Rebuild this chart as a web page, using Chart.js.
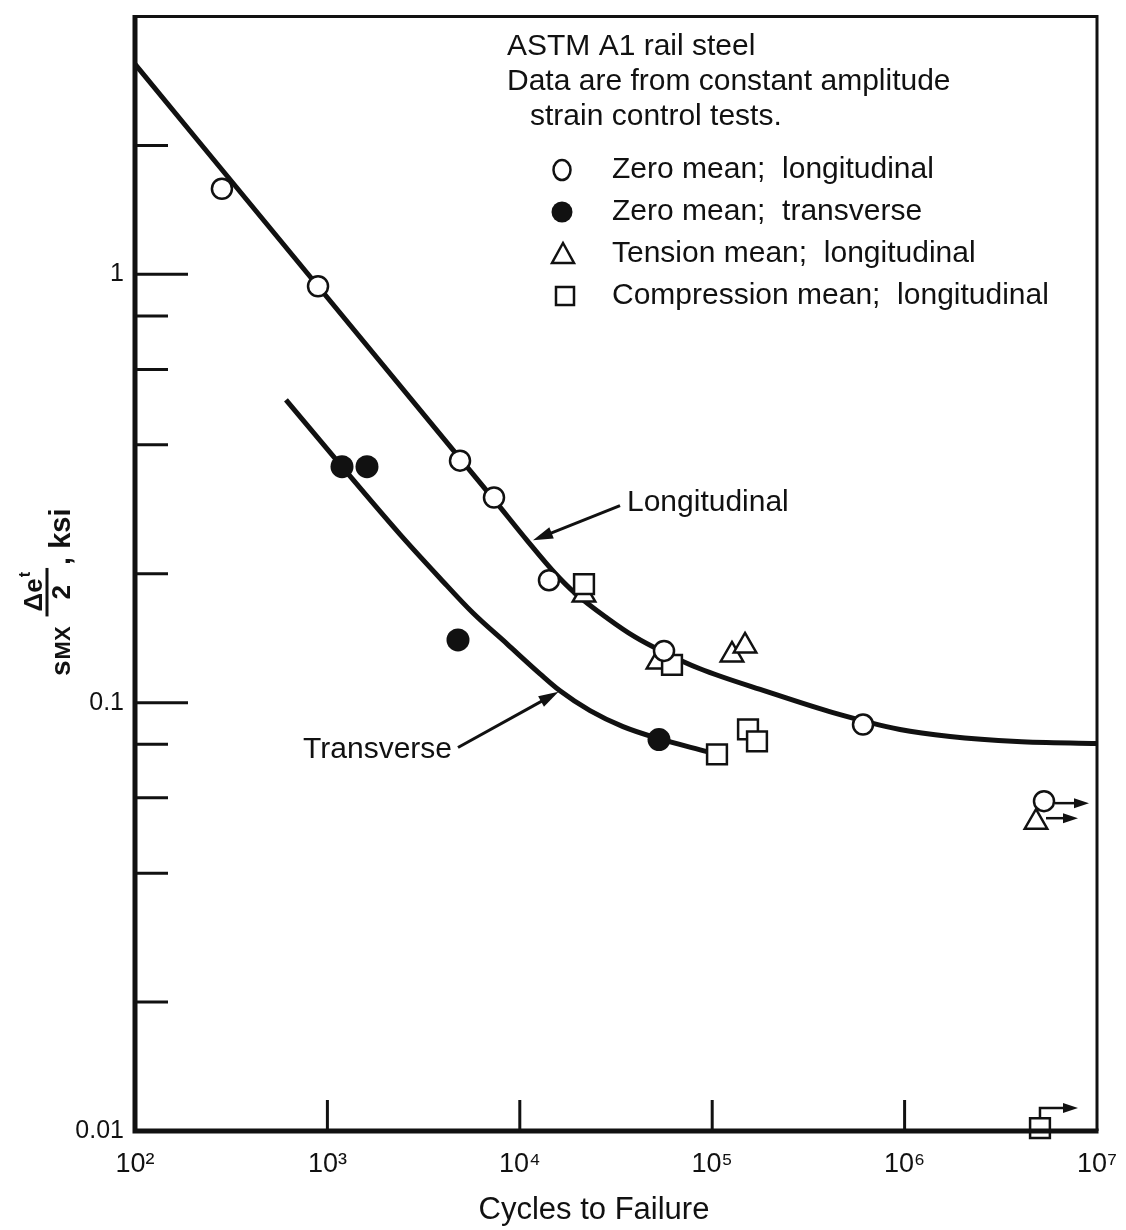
<!DOCTYPE html>
<html>
<head>
<meta charset="utf-8">
<script src="https://cdn.jsdelivr.net/npm/chart.js@4.4.1/dist/chart.umd.min.js"></script>
<style>
html,body{margin:0;padding:0;background:#ffffff;}
#wrap{width:1126px;height:1230px;}
</style>
</head>
<body>
<div id="wrap"><canvas id="c" width="1126" height="1230"></canvas></div>
<script>
// ---- axis ticks ----
const xTickValues = [1e2, 1e3, 1e4, 1e5, 1e6, 1e7];
const xTickLabels = ['10\u00B2', '10\u00B3', '10\u2074', '10\u2075', '10\u2076', '10\u2077'];
const xInnerTicks = [1e3, 1e4, 1e5, 1e6];
const yTickValues = [0.01, 0.1, 1];
const yTickLabels = ['0.01', '0.1', '1'];
const yMajorTicks = [0.1, 1];
const yMinorTicks = [0.02, 0.04, 0.06, 0.08, 0.2, 0.4, 0.6, 0.8, 2];

// ---- fitted curves (cycles, amplitude) ----
const longCurveN = [100, 894, 4948, 7343, 10900, 15240, 19360, 28400, 39700, 55510, 86420, 192700, 424500, 946400, 1722000, 3839000, 10000000];
const longCurveS = [3.095, 0.938, 0.3694, 0.2980, 0.2394, 0.2006, 0.1803, 0.1577, 0.1424, 0.1314, 0.1200, 0.1061, 0.0948, 0.0866, 0.0834, 0.0812, 0.0803];
const transCurveN = [609, 1191, 2384, 3848, 5713, 8579, 12735, 16180, 23170, 34390, 52270, 93970];
const transCurveS = [0.5093, 0.3557, 0.2472, 0.1953, 0.1619, 0.1372, 0.1168, 0.1066, 0.0958, 0.0879, 0.0825, 0.0769];

// ---- test data ----
const zeroLongN = [283, 894, 4889, 7343, 14180, 56180, 607900, 5303000];
const zeroLongS = [1.585, 0.938, 0.3674, 0.3013, 0.1932, 0.1321, 0.0889, 0.0589];
const zeroTransN = [1191, 1606, 4773, 52900];
const zeroTransS = [0.3557, 0.3557, 0.1401, 0.0820];
const tensionLongN = [21560, 52270, 126700, 148100, 4819000];
const tensionLongS = [0.1783, 0.1245, 0.1293, 0.1357, 0.0526];
const compLongN = [21560, 61810, 105900, 153500, 170900, 5054000];
const compLongS = [0.1891, 0.1226, 0.0757, 0.0866, 0.0812, 0.01016];
const runoutMinCycles = 4e6; // specimens at/above this did not fail (run-outs)

// ---- texts ----
const legendTitle = ['ASTM A1 rail steel', 'Data are from constant amplitude', 'strain control tests.'];
const legendLabels = ['Zero mean;  longitudinal', 'Zero mean;  transverse', 'Tension mean;  longitudinal', 'Compression mean;  longitudinal'];
const xTitle = 'Cycles to Failure';
const curveLabels = ['Longitudinal', 'Transverse'];
// annotation anchors in data coordinates: [labelN, labelS, tailN, tailS, tipN, tipS]
const longLabelAnchor = [36060, 0.2933, 33180, 0.2886, 11710, 0.2394];
const transLabelAnchor = [4442, 0.0777, 4773, 0.0786, 15900, 0.1060];

const FONT = '"Liberation Sans", Arial, sans-serif';
const INK = '#111111';

function pts(N, S) { return N.map((n, i) => ({x: n, y: S[i]})); }

function arrowHead(ctx, x1, y1, x2, y2, len, half) {
  const a = Math.atan2(y2 - y1, x2 - x1);
  ctx.beginPath();
  ctx.moveTo(x2, y2);
  ctx.lineTo(x2 - len * Math.cos(a) + half * Math.sin(a), y2 - len * Math.sin(a) - half * Math.cos(a));
  ctx.lineTo(x2 - len * Math.cos(a) - half * Math.sin(a), y2 - len * Math.sin(a) + half * Math.cos(a));
  ctx.closePath();
  ctx.fill();
}
function arrow(ctx, x1, y1, x2, y2, w, len, half) {
  const a = Math.atan2(y2 - y1, x2 - x1);
  ctx.lineWidth = w;
  ctx.beginPath();
  ctx.moveTo(x1, y1);
  ctx.lineTo(x2 - (len * 0.7) * Math.cos(a), y2 - (len * 0.7) * Math.sin(a));
  ctx.stroke();
  arrowHead(ctx, x1, y1, x2, y2, len, half);
}

const decor = {
  id: 'decor',
  beforeDraw(chart) {
    const ctx = chart.ctx;
    ctx.save();
    ctx.fillStyle = '#ffffff';
    ctx.fillRect(0, 0, chart.width, chart.height);
    ctx.restore();
  },
  afterDraw(chart) {
    const ctx = chart.ctx;
    const xs = chart.scales.x, ys = chart.scales.y;
    const a = chart.chartArea;
    ctx.save();
    ctx.strokeStyle = INK; ctx.fillStyle = INK;
    ctx.lineCap = 'butt';

    // frame
    ctx.lineWidth = 3;
    ctx.beginPath();
    ctx.moveTo(a.left, a.top); ctx.lineTo(a.right, a.top); ctx.lineTo(a.right, a.bottom);
    ctx.stroke();
    ctx.lineWidth = 5;
    ctx.beginPath();
    ctx.moveTo(a.left, a.top - 1.5); ctx.lineTo(a.left, a.bottom); ctx.lineTo(a.right + 1.5, a.bottom);
    ctx.stroke();

    // inward ticks
    ctx.lineWidth = 3;
    yMajorTicks.forEach(v => { const y = ys.getPixelForValue(v); ctx.beginPath(); ctx.moveTo(a.left, y); ctx.lineTo(a.left + 53, y); ctx.stroke(); });
    yMinorTicks.forEach(v => { const y = ys.getPixelForValue(v); ctx.beginPath(); ctx.moveTo(a.left, y); ctx.lineTo(a.left + 33, y); ctx.stroke(); });
    xInnerTicks.forEach(v => { const x = xs.getPixelForValue(v); ctx.beginPath(); ctx.moveTo(x, a.bottom); ctx.lineTo(x, a.bottom - 31); ctx.stroke(); });

    // run-out arrows
    ctx.lineWidth = 2.5;
    zeroLongN.forEach((n, i) => {
      if (n < runoutMinCycles) return;
      const x = xs.getPixelForValue(n), y = ys.getPixelForValue(zeroLongS[i]);
      arrow(ctx, x + 11, y + 2, x + 45, y + 2, 2.5, 15, 5);
    });
    tensionLongN.forEach((n, i) => {
      if (n < runoutMinCycles) return;
      const x = xs.getPixelForValue(n), y = ys.getPixelForValue(tensionLongS[i]);
      arrow(ctx, x + 10, y - 4, x + 42, y - 4, 2.5, 15, 5);
    });
    compLongN.forEach((n, i) => {
      if (n < runoutMinCycles) return;
      const x = xs.getPixelForValue(n), y = ys.getPixelForValue(compLongS[i]);
      ctx.lineWidth = 2.5;
      ctx.beginPath(); ctx.moveTo(x, y - 10); ctx.lineTo(x, y - 20); ctx.lineTo(x + 26, y - 20); ctx.stroke();
      arrowHead(ctx, x, y - 20, x + 38, y - 20, 15, 5);
    });

    // curve labels with arrows
    ctx.font = '30px ' + FONT;
    ctx.textBaseline = 'middle';
    {
      const [ln, ls, tn, ts, pn, ps] = longLabelAnchor;
      ctx.textAlign = 'left';
      ctx.fillText(curveLabels[0], xs.getPixelForValue(ln), ys.getPixelForValue(ls));
      arrow(ctx, xs.getPixelForValue(tn), ys.getPixelForValue(ts), xs.getPixelForValue(pn), ys.getPixelForValue(ps), 3, 20, 6);
    }
    {
      const [ln, ls, tn, ts, pn, ps] = transLabelAnchor;
      ctx.textAlign = 'right';
      ctx.fillText(curveLabels[1], xs.getPixelForValue(ln), ys.getPixelForValue(ls));
      arrow(ctx, xs.getPixelForValue(tn), ys.getPixelForValue(ts), xs.getPixelForValue(pn), ys.getPixelForValue(ps), 3, 20, 6);
    }

    // legend block
    ctx.textAlign = 'left';
    ctx.font = '30px ' + FONT;
    ctx.fillText(legendTitle[0], 507, 47);
    ctx.fillText(legendTitle[1], 507, 82);
    ctx.fillText(legendTitle[2], 530, 117);
    const rowY = [170, 212, 254, 296];
    legendLabels.forEach((t, i) => ctx.fillText(t, 612, rowY[i]));
    ctx.lineWidth = 2.5;
    ctx.fillStyle = '#fff';
    ctx.beginPath(); ctx.ellipse(562, rowY[0], 8.5, 10, 0, 0, Math.PI * 2); ctx.fill(); ctx.stroke();
    ctx.fillStyle = INK;
    ctx.beginPath(); ctx.arc(562, rowY[1], 10.5, 0, Math.PI * 2); ctx.fill();
    ctx.beginPath(); ctx.moveTo(563, rowY[2] - 11); ctx.lineTo(574, rowY[2] + 9); ctx.lineTo(552, rowY[2] + 9); ctx.closePath(); ctx.stroke();
    ctx.strokeRect(556, rowY[3] - 9, 18, 18);

    // x title
    ctx.fillStyle = INK;
    ctx.font = '31px ' + FONT;
    ctx.textAlign = 'center';
    ctx.textBaseline = 'middle';
    ctx.fillText(xTitle, 594, 1210);

    // y title: s_MX (Δe^t / 2), ksi   (rotated)
    ctx.save();
    ctx.translate(70, 676);
    ctx.rotate(-Math.PI / 2);
    ctx.textAlign = 'left';
    ctx.textBaseline = 'alphabetic';
    ctx.font = 'bold 28px ' + FONT;
    ctx.fillText('s', 0, 0);
    let u = ctx.measureText('s').width + 1;
    ctx.font = 'bold 22px ' + FONT;
    ctx.fillText('MX', u, 0);
    u += ctx.measureText('MX').width + 10;
    ctx.font = 'bold 26px ' + FONT;
    const w1 = ctx.measureText('\u0394e').width;
    const w3 = ctx.measureText('2').width;
    ctx.font = 'bold 16px ' + FONT;
    const w2 = ctx.measureText('t').width;
    const fw = Math.max(w1 + w2, w3) + 10;
    ctx.fillRect(u, -24.5, fw, 3);
    ctx.font = 'bold 26px ' + FONT;
    const nx = u + (fw - (w1 + w2)) / 2;
    ctx.fillText('\u0394e', nx, -28);
    ctx.fillText('2', u + (fw - w3) / 2, 0);
    ctx.font = 'bold 16px ' + FONT;
    ctx.fillText('t', nx + w1 + 1, -40);
    u += fw + 3;
    ctx.font = 'bold 29px ' + FONT;
    ctx.fillText(', ksi', u, 0);
    ctx.restore();

    ctx.restore();
  }
};

Chart.defaults.font.family = FONT;
Chart.defaults.color = INK;

const curveStyle = {showLine: true, borderColor: INK, borderWidth: 5, pointRadius: 0, pointHoverRadius: 0, fill: false, cubicInterpolationMode: 'monotone', order: 10, clip: false};

function noPad(s) { s.paddingTop = 0; s.paddingBottom = 0; s.paddingLeft = 0; s.paddingRight = 0; }

new Chart(document.getElementById('c'), {
  type: 'scatter',
  data: {
    datasets: [
      Object.assign({label: 'Longitudinal fit', data: pts(longCurveN, longCurveS)}, curveStyle),
      Object.assign({label: 'Transverse fit', data: pts(transCurveN, transCurveS)}, curveStyle),
      {label: 'Tension mean; longitudinal', data: pts(tensionLongN, tensionLongS), pointStyle: 'triangle', pointRadius: 13, borderWidth: 2.5, borderColor: INK, backgroundColor: '#ffffff', order: 3, clip: false},
      {label: 'Compression mean; longitudinal', data: pts(compLongN, compLongS), pointStyle: 'rect', pointRadius: 14, borderWidth: 2.5, borderColor: INK, backgroundColor: '#ffffff', order: 2, clip: false},
      {label: 'Zero mean; longitudinal', data: pts(zeroLongN, zeroLongS), pointStyle: 'circle', pointRadius: 10, borderWidth: 2.5, borderColor: INK, backgroundColor: '#ffffff', order: 1, clip: false},
      {label: 'Zero mean; transverse', data: pts(zeroTransN, zeroTransS), pointStyle: 'circle', pointRadius: 11.5, borderWidth: 0, borderColor: INK, backgroundColor: INK, order: 1, clip: false}
    ]
  },
  options: {
    responsive: false,
    animation: false,
    devicePixelRatio: 1,
    layout: {padding: {top: 12, right: 29, left: 0, bottom: 0}},
    plugins: {legend: {display: false}, tooltip: {enabled: false}, title: {display: false}},
    scales: {
      x: {
        type: 'logarithmic', min: 100, max: 1e7, position: 'bottom',
        grid: {display: false, drawTicks: false}, border: {display: false},
        afterBuildTicks: s => { s.ticks = xTickValues.map(v => ({value: v})); },
        afterFit: s => { s.height = 99; noPad(s); },
        ticks: {autoSkip: false, maxRotation: 0, minRotation: 0, padding: 17, color: INK, font: {size: 27},
          callback: (v) => { const i = xTickValues.indexOf(v); return i >= 0 ? xTickLabels[i] : null; }}
      },
      y: {
        type: 'logarithmic', min: 0.01, max: 4, position: 'left',
        grid: {display: false, drawTicks: false}, border: {display: false},
        afterBuildTicks: s => { s.ticks = yTickValues.map(v => ({value: v})); },
        afterFit: s => { s.width = 135; noPad(s); },
        ticks: {autoSkip: false, padding: 11, color: INK, font: {size: 25},
          callback: (v) => { const i = yTickValues.indexOf(v); return i >= 0 ? yTickLabels[i] : null; }}
      }
    }
  },
  plugins: [decor]
});
</script>
</body>
</html>
